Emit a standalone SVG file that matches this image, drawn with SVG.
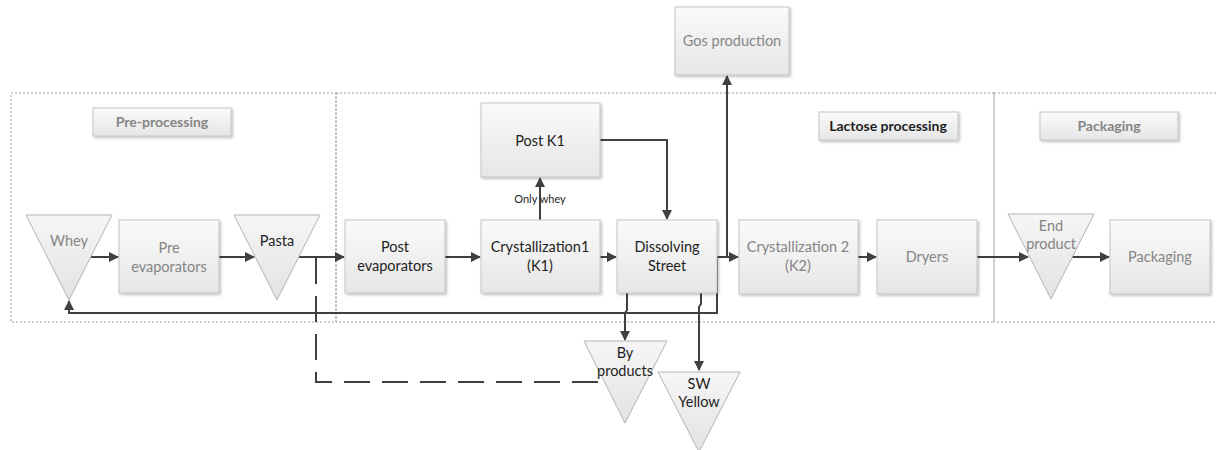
<svg xmlns="http://www.w3.org/2000/svg" width="1217" height="450" viewBox="0 0 1217 450">
  <style>
    .frame { fill: none; stroke: #a0a0a0; stroke-width: 1; stroke-dasharray: 2 2; }
    .box { fill: url(#boxFill); stroke: #c4c4c4; stroke-width: 1; filter: url(#shadow); }
    .tri { fill: url(#triFill); stroke: #b4b4b4; stroke-width: 1; }
    .t { font-family: Lato, "Liberation Sans", sans-serif; font-size: 14.5px; text-anchor: middle; }
    .grey { fill: #858585; }
    .dark { fill: #1e1e1e; }
    .hdr { font-weight: bold; font-size: 14px; }
    .small { font-size: 11px; }
    .edge { fill: none; stroke: #404040; stroke-width: 2; }
    .dash { stroke-dasharray: 26 12; }
  </style>
  <defs>
    <linearGradient id="boxFill" x1="0" y1="0" x2="0" y2="1">
      <stop offset="0" stop-color="#fafafa"/>
      <stop offset="1" stop-color="#e6e6e6"/>
    </linearGradient>
    <linearGradient id="triFill" x1="0" y1="0" x2="0" y2="1">
      <stop offset="0" stop-color="#f6f6f6"/>
      <stop offset="1" stop-color="#e2e2e2"/>
    </linearGradient>
    <filter id="shadow" x="-10%" y="-10%" width="130%" height="130%">
      <feDropShadow dx="1.5" dy="1.5" stdDeviation="1" flood-color="#000" flood-opacity="0.25"/>
    </filter>
    <marker id="arrow" viewBox="0 0 10 10" refX="9" refY="5" markerWidth="5.5" markerHeight="5" orient="auto" markerUnits="strokeWidth">
      <path d="M0,0 L10,5 L0,10 z" fill="#404040"/>
    </marker>
  </defs>

  <!-- swimlane frames -->
  <g id="lanes">
    <rect class="frame" x="11" y="93" width="325" height="229"/>
    <rect class="frame" x="336" y="93" width="658" height="229"/>
    <rect class="frame" x="994" y="93" width="230" height="229"/>
  </g>

  <!-- lane headers -->
  <g id="hdr-pre">
    <rect class="box" x="93" y="108" width="138" height="28"/>
    <text class="t grey hdr" x="162" y="127">Pre-processing</text>
  </g>
  <g id="hdr-lactose">
    <rect class="box" x="819" y="112" width="139" height="28"/>
    <text class="t dark hdr" x="888" y="131">Lactose processing</text>
  </g>
  <g id="hdr-pack">
    <rect class="box" x="1040" y="112" width="138" height="28"/>
    <text class="t grey hdr" x="1109" y="131">Packaging</text>
  </g>

  <!-- connectors -->
  <g id="connectors">
    <path class="edge" d="M90,257 H118" marker-end="url(#arrow)"/>
    <path class="edge" d="M219,257 H254" marker-end="url(#arrow)"/>
    <path class="edge" d="M299,257 H344" marker-end="url(#arrow)"/>
    <path class="edge" d="M445,257 H480" marker-end="url(#arrow)"/>
    <path class="edge" d="M600,257 H616" marker-end="url(#arrow)"/>
    <path class="edge" d="M540,220 V178" marker-end="url(#arrow)"/>
    <path class="edge" d="M600,140 H667 V219" marker-end="url(#arrow)"/>
    <path class="edge" d="M717,257 H738" marker-end="url(#arrow)"/>
    <path class="edge" d="M727,257 V76" marker-end="url(#arrow)"/>
    <path class="edge" d="M717,257 V313 H69 V301" marker-end="url(#arrow)"/>
    <path class="edge" d="M858,257 H876" marker-end="url(#arrow)"/>
    <path class="edge" d="M977,257 H1028" marker-end="url(#arrow)"/>
    <path class="edge" d="M1072,257 H1109" marker-end="url(#arrow)"/>
    <path class="edge" d="M627,293 V310 L625,313 V340" marker-end="url(#arrow)"/>
    <path class="edge" d="M701,293 V304 L699,307 V370" marker-end="url(#arrow)"/>
    <path class="edge dash" d="M316,258 V382 H605"/>
    <text class="t dark small" x="540" y="203">Only whey</text>
  </g>

  <!-- nodes -->
  <g id="whey">
    <polygon class="tri" points="26,215 112,215 69,300"/>
    <text class="t grey" x="69" y="246">Whey</text>
  </g>
  <g id="pre-evaporators">
    <rect class="box" x="119" y="220" width="100" height="73"/>
    <text class="t grey" x="169" y="253">Pre</text>
    <text class="t grey" x="169" y="272">evaporators</text>
  </g>
  <g id="pasta">
    <polygon class="tri" points="234,215 320,215 277,300"/>
    <text class="t dark" x="277" y="246">Pasta</text>
  </g>
  <g id="post-evaporators">
    <rect class="box" x="345" y="220" width="100" height="73"/>
    <text class="t dark" x="395" y="252">Post</text>
    <text class="t dark" x="395" y="271">evaporators</text>
  </g>
  <g id="post-k1">
    <rect class="box" x="481" y="103" width="119" height="74"/>
    <text class="t dark" x="540" y="146">Post K1</text>
  </g>
  <g id="crystallization1">
    <rect class="box" x="481" y="220" width="119" height="73"/>
    <text class="t dark" x="540" y="252">Crystallization1</text>
    <text class="t dark" x="540" y="271">(K1)</text>
  </g>
  <g id="dissolving-street">
    <rect class="box" x="617" y="220" width="100" height="73"/>
    <text class="t dark" x="667" y="252">Dissolving</text>
    <text class="t dark" x="667" y="271">Street</text>
  </g>
  <g id="gos-production">
    <rect class="box" x="675" y="7" width="114" height="68"/>
    <text class="t grey" x="732" y="46">Gos production</text>
  </g>
  <g id="crystallization2">
    <rect class="box" x="739" y="220" width="119" height="74"/>
    <text class="t grey" x="798" y="252">Crystallization 2</text>
    <text class="t grey" x="798" y="271">(K2)</text>
  </g>
  <g id="dryers">
    <rect class="box" x="877" y="220" width="100" height="74"/>
    <text class="t grey" x="927" y="262">Dryers</text>
  </g>
  <g id="end-product">
    <polygon class="tri" points="1008,214 1094,214 1051,299"/>
    <text class="t grey" x="1051" y="231">End</text>
    <text class="t grey" x="1051" y="249">product</text>
  </g>
  <g id="packaging">
    <rect class="box" x="1110" y="220" width="100" height="74"/>
    <text class="t grey" x="1160" y="262">Packaging</text>
  </g>
  <g id="by-products">
    <polygon class="tri" points="584,341 667,341 625,423"/>
    <text class="t dark" x="625" y="358">By</text>
    <text class="t dark" x="625" y="376">products</text>
  </g>
  <g id="sw-yellow">
    <polygon class="tri" points="658,372 740,372 699,452"/>
    <text class="t dark" x="699" y="389">SW</text>
    <text class="t dark" x="699" y="407">Yellow</text>
  </g>
</svg>
